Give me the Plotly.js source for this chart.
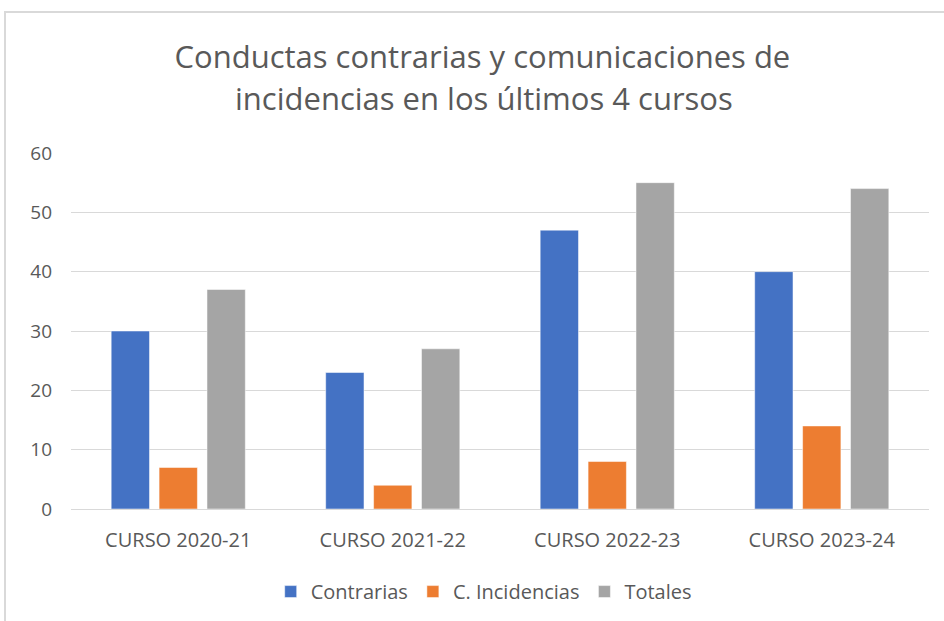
<!DOCTYPE html>
<html>
<head>
<meta charset="utf-8">
<script src="https://cdn.plot.ly/plotly-3.0.1.min.js"></script>
<style>
html,body{margin:0;padding:0;background:#fff;}
#chart{position:absolute;left:0;top:0;width:944px;height:621px;}
#frame{position:absolute;left:4px;top:11px;width:960px;height:640px;border:2px solid #d9d9d9;pointer-events:none;box-sizing:border-box;}
</style>
</head>
<body>
<div id="chart"></div>
<div id="frame"></div>
<script>
const categories = ["CURSO 2020-21", "CURSO 2021-22", "CURSO 2022-23", "CURSO 2023-24"];
const contrarias = [30, 23, 47, 40];
const incidencias = [7, 4, 8, 14];
const totales = [37, 27, 55, 54];
const seriesNames = ["Contrarias", "C. Incidencias", "Totales"];
const yTicks = [0, 10, 20, 30, 40, 50, 60];
const titleLine1 = "Conductas contrarias y comunicaciones de";
const titleLine2 = "incidencias en los últimos 4 cursos";

const colors = ["#4472C4", "#ED7D31", "#A5A5A5"];
const font = "'Open Sans', sans-serif";
const textColor = "#595959";

const data = [contrarias, incidencias, totales].map((vals, i) => ({
  type: "bar",
  name: seriesNames[i],
  x: categories,
  y: vals,
  marker: {color: colors[i], line: {color: "rgba(255,255,255,0.5)", width: 1}},
  hoverinfo: "x+y+name"
}));

const layout = {
  width: 944,
  height: 621,
  paper_bgcolor: "rgba(0,0,0,0)",
  plot_bgcolor: "rgba(0,0,0,0)",
  margin: {l: 71, r: 15, t: 153, b: 112, autoexpand: false},
  title: {
    text: titleLine1,
    font: {family: font, size: 31, color: textColor},
    x: 0.511,
    xanchor: "center",
    xref: "container",
    yref: "container",
    y: 0.908,
    yanchor: "middle"
  },
  annotations: [{
    text: titleLine2,
    font: {family: font, size: 31, color: textColor},
    xref: "paper", yref: "paper",
    x: 0.481, xanchor: "center",
    y: 1.155, yanchor: "middle",
    showarrow: false
  }],
  barmode: "group",
  bargap: 0.33,
  bargroupgap: 0.2,
  xaxis: {
    type: "category",
    automargin: false,
    tickfont: {family: font, size: 20, color: textColor},
    showline: true,
    linecolor: "#d9d9d9",
    linewidth: 1,
    ticks: "",
    ticklabelstandoff: 13
  },
  yaxis: {
    range: [0, 60],
    automargin: false,
    tickvals: yTicks,
    tickfont: {family: font, size: 19, color: textColor},
    gridcolor: "#d9d9d9",
    gridwidth: 1,
    zeroline: false,
    showline: false,
    ticks: "",
    ticklabelstandoff: 18
  },
  legend: {
    orientation: "h",
    x: 0.481,
    xanchor: "center",
    y: -0.232,
    yanchor: "middle",
    font: {family: font, size: 20, color: textColor},
    traceorder: "normal"
  },
  showlegend: true
};

Plotly.newPlot("chart", data, layout, {displayModeBar: false, staticPlot: true});
</script>
</body>
</html>
